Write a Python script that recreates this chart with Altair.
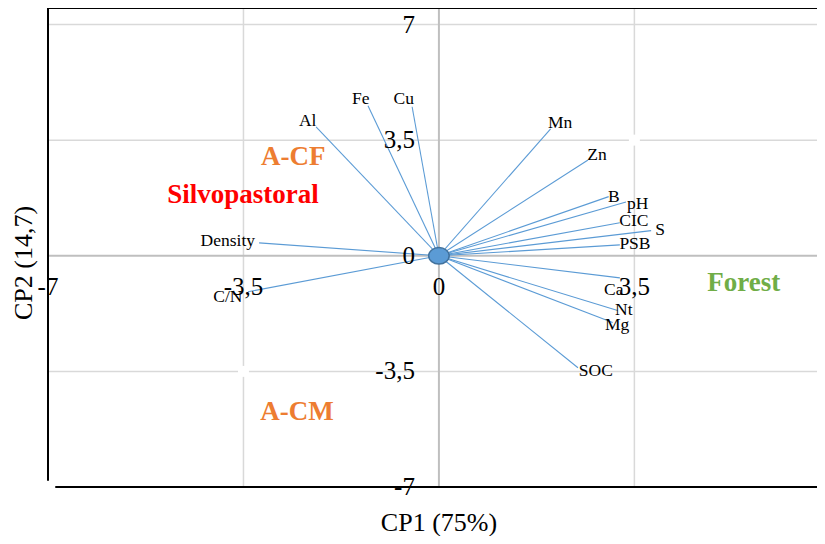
import altair as alt
import pandas as pd

# ---- data ----
variables = ["Density", "C/N", "Al", "Fe", "Cu", "Mn", "Zn", "B", "pH", "CIC",
             "S", "PSB", "Ca", "Nt", "Mg", "SOC"]
cp1 = [-3.22, -3.42, -2.20, -1.27, -0.48, 2.00, 2.67, 3.04, 3.35, 3.24,
       3.80, 3.24, 3.24, 3.20, 3.11, 2.49]
cp2 = [0.39, -1.09, 3.90, 4.54, 4.51, 3.84, 2.90, 1.79, 1.63, 1.00,
       0.76, 0.33, -0.67, -1.66, -2.02, -3.39]
label_x = [-3.78, -3.78, -2.35, -1.40, -0.63, 2.17, 2.83, 3.13, 3.56, 3.49,
           3.96, 3.51, 3.13, 3.31, 3.19, 2.81]
label_y = [0.45, -1.24, 4.09, 4.75, 4.75, 4.03, 3.06, 1.79, 1.57, 1.06,
           0.79, 0.36, -1.03, -1.63, -2.09, -3.48]

groups = ["A-CF", "Silvopastoral", "Forest", "A-CM"]
group_x = [-2.61, -3.51, 5.46, -2.54]
group_y = [3.00, 1.85, -0.82, -4.72]
group_colors = ["#ED7D31", "#FF0000", "#70AD47", "#ED7D31"]

tick_values = [-7, -3.5, 0, 3.5, 7]
tick_labels = ["-7", "-3,5", "0", "3,5", "7"]

hidden_x = [3.5, -3.5]
hidden_y = [3.5, -3.5]

FONT = "'Liberation Serif', 'Times New Roman', 'DejaVu Serif', serif"
BLUE = "#5B9BD5"

xs = alt.Scale(domain=[-7, 6.77], nice=False, zero=False)
ys = alt.Scale(domain=[-7, 7.5], nice=False, zero=False)

def X(f):
    return alt.X(f, type="quantitative", scale=xs, axis=None)

def Y(f):
    return alt.Y(f, type="quantitative", scale=ys, axis=None)

vec = pd.DataFrame({"var": variables, "x": cp1, "y": cp2,
                    "x0": [0.0] * len(cp1), "y0": [0.0] * len(cp2),
                    "lx": label_x, "ly": label_y})
grp = pd.DataFrame({"g": groups, "x": group_x, "y": group_y, "c": group_colors})
ticks = pd.DataFrame({"v": tick_values, "t": tick_labels, "z": [0.0] * 5})
hidden = pd.DataFrame({"x": hidden_x, "y": hidden_y})

# grid lines
vgrid = pd.DataFrame({"x": [-3.5, 3.5], "y1": [7.5, 7.5], "y2": [-7, -7]})
hgrid = pd.DataFrame({"y": [7, 3.5, -3.5], "x1": [-7] * 3, "x2": [6.77] * 3})
zero_v = pd.DataFrame({"x": [0.0], "y1": [7.5], "y2": [-7]})
zero_h = pd.DataFrame({"y": [0.0], "x1": [-7], "x2": [6.77]})

grid_v = alt.Chart(vgrid).mark_rule(color="#D9D9D9", strokeWidth=1.5).encode(
    x=X("x"), y=Y("y1"), y2="y2")
grid_h = alt.Chart(hgrid).mark_rule(color="#D9D9D9", strokeWidth=1.5).encode(
    y=Y("y"), x=X("x1"), x2="x2")
axis_v = alt.Chart(zero_v).mark_rule(color="#BFBFBF", strokeWidth=2).encode(
    x=X("x"), y=Y("y1"), y2="y2")
axis_h = alt.Chart(zero_h).mark_rule(color="#BFBFBF", strokeWidth=2).encode(
    y=Y("y"), x=X("x1"), x2="x2")

# frame lines
top_b = alt.Chart(pd.DataFrame({"y": [7.5], "x1": [-7], "x2": [6.77]})).mark_rule(
    color="black", strokeWidth=2).encode(y=Y("y"), x=X("x1"), x2="x2")
left_b = alt.Chart(pd.DataFrame({"x": [-7], "y1": [7.5], "y2": [-6.81]})).mark_rule(
    color="black", strokeWidth=2).encode(x=X("x"), y=Y("y1"), y2="y2")
bot_b = alt.Chart(pd.DataFrame({"y": [-7], "x1": [-6.87], "x2": [6.77]})).mark_rule(
    color="black", strokeWidth=2).encode(y=Y("y"), x=X("x1"), x2="x2")

hid = alt.Chart(hidden).mark_point(shape="square", filled=True, color="white",
                                   size=120, opacity=1).encode(x=X("x"), y=Y("y"))

vectors = alt.Chart(vec).mark_rule(color=BLUE, strokeWidth=1.1).encode(
    x=X("x0"), y=Y("y0"), x2="x", y2="y")

origin = alt.Chart(pd.DataFrame({"x": [0.0], "y": [0.0]})).mark_point(
    shape="M-1,0A1,0.8 0 1,0 1,0A1,0.8 0 1,0 -1,0Z", filled=True,
    fill=BLUE, stroke="#41719C", strokeWidth=1.5, size=420, opacity=1).encode(
    x=X("x"), y=Y("y"))

vlabels = alt.Chart(vec).mark_text(font=FONT, fontSize=17.5, color="black",
                                   align="center", baseline="middle").encode(
    x=X("lx"), y=Y("ly"), text="var:N")

glabels = alt.Chart(grp).mark_text(font=FONT, fontSize=27, fontWeight="bold",
                                   align="center", baseline="middle").encode(
    x=X("x"), y=Y("y"), text="g:N",
    color=alt.Color("c:N", scale=None))

xticks = alt.Chart(ticks).mark_text(font=FONT, fontSize=25, color="black",
                                    align="center", baseline="middle", dy=31).encode(
    x=X("v"), y=Y("z"), text="t:N")
yticks = alt.Chart(ticks).mark_text(font=FONT, fontSize=25, color="black",
                                    align="right", baseline="middle", dx=-24).encode(
    x=X("z"), y=Y("v"), text="t:N")

xtitle = alt.Chart(pd.DataFrame({"t": ["CP1 (75%)"]})).mark_text(
    font=FONT, fontSize=26, color="black", align="center", baseline="middle").encode(
    x=alt.value(391), y=alt.value(515), text="t:N")
ytitle = alt.Chart(pd.DataFrame({"t": ["CP2 (14,7)"]})).mark_text(
    font=FONT, fontSize=26, color="black", align="center", baseline="middle",
    angle=270).encode(x=alt.value(-24), y=alt.value(255), text="t:N")

chart = alt.layer(
    grid_v, grid_h, axis_v, axis_h, top_b, left_b, bot_b, hid,
    vectors, origin, vlabels, glabels, xticks, yticks, xtitle, ytitle
).properties(
    width=769, height=479,
    padding={"left": 40, "top": 0, "right": 0, "bottom": 49},
    autosize=alt.AutoSizeParams(type="none"),
).configure_view(stroke=None)

chart.save("out.html", embed_options={"renderer": "svg", "actions": False})
